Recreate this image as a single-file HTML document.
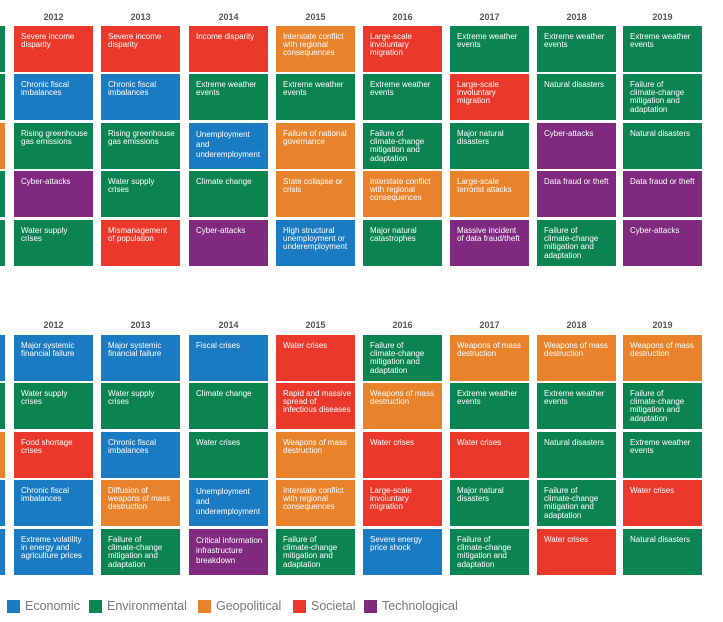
<!DOCTYPE html>
<html><head><meta charset="utf-8"><style>
body{margin:0;width:723px;height:622px;background:#fff;position:relative;overflow:hidden;font-family:"Liberation Sans",sans-serif}
.y{position:absolute;width:79px;text-align:center;font-size:9px;color:#555;font-weight:bold}
.b{position:absolute;width:79px;height:46px;box-sizing:border-box;padding:6.5px 0 0 7px;color:#fff;font-size:8px;line-height:8.4px;white-space:nowrap}
.E{background:#1a7bc3}.N{background:#0c8451}.G{background:#e8822b}.S{background:#ea392a}.T{background:#7f297f}
.lg{position:absolute;top:600px;height:13px;font-size:12.5px;color:#777;line-height:13px}
.lg span{display:inline-block;width:13px;height:13px;vertical-align:top;margin-right:5px}
</style></head><body>
<div class="y" style="left:14px;top:12px">2012</div><div class="y" style="left:101px;top:12px">2013</div><div class="y" style="left:189px;top:12px">2014</div><div class="y" style="left:276px;top:12px">2015</div><div class="y" style="left:363px;top:12px">2016</div><div class="y" style="left:450px;top:12px">2017</div><div class="y" style="left:537px;top:12px">2018</div><div class="y" style="left:623px;top:12px">2019</div>
<div class="y" style="left:14px;top:320px">2012</div><div class="y" style="left:101px;top:320px">2013</div><div class="y" style="left:189px;top:320px">2014</div><div class="y" style="left:276px;top:320px">2015</div><div class="y" style="left:363px;top:320px">2016</div><div class="y" style="left:450px;top:320px">2017</div><div class="y" style="left:537px;top:320px">2018</div><div class="y" style="left:623px;top:320px">2019</div>
<div class="b N" style="left:-74px;top:26px"></div><div class="b N" style="left:-74px;top:74px"></div><div class="b G" style="left:-74px;top:123px"></div><div class="b N" style="left:-74px;top:171px"></div><div class="b N" style="left:-74px;top:220px"></div>
<div class="b E" style="left:-74px;top:335px"></div><div class="b N" style="left:-74px;top:383px"></div><div class="b G" style="left:-74px;top:432px"></div><div class="b E" style="left:-74px;top:480px"></div><div class="b E" style="left:-74px;top:529px"></div>

<div class="b S" style="left:14px;top:26px">Severe income<br>disparity</div>
<div class="b E" style="left:14px;top:74px">Chronic fiscal<br>imbalances</div>
<div class="b N" style="left:14px;top:123px">Rising greenhouse<br>gas emissions</div>
<div class="b T" style="left:14px;top:171px">Cyber-attacks</div>
<div class="b N" style="left:14px;top:220px">Water supply<br>crises</div>

<div class="b S" style="left:101px;top:26px">Severe income<br>disparity</div>
<div class="b E" style="left:101px;top:74px">Chronic fiscal<br>imbalances</div>
<div class="b N" style="left:101px;top:123px">Rising greenhouse<br>gas emissions</div>
<div class="b N" style="left:101px;top:171px">Water supply<br>crises</div>
<div class="b S" style="left:101px;top:220px">Mismanagement<br>of population</div>

<div class="b S" style="left:189px;top:26px">Income disparity</div>
<div class="b N" style="left:189px;top:74px">Extreme weather<br>events</div>
<div class="b E" style="left:189px;top:123px;line-height:10px">Unemployment<br>and<br>underemployment</div>
<div class="b N" style="left:189px;top:171px">Climate change</div>
<div class="b T" style="left:189px;top:220px">Cyber-attacks</div>

<div class="b G" style="left:276px;top:26px">Interstate conflict<br>with regional<br>consequences</div>
<div class="b N" style="left:276px;top:74px">Extreme weather<br>events</div>
<div class="b G" style="left:276px;top:123px">Failure of national<br>governance</div>
<div class="b G" style="left:276px;top:171px">State collapse or<br>crisis</div>
<div class="b E" style="left:276px;top:220px">High structural<br>unemployment or<br>underemployment</div>

<div class="b S" style="left:363px;top:26px">Large-scale<br>involuntary<br>migration</div>
<div class="b N" style="left:363px;top:74px">Extreme weather<br>events</div>
<div class="b N" style="left:363px;top:123px">Failure of<br>climate-change<br>mitigation and<br>adaptation</div>
<div class="b G" style="left:363px;top:171px">Interstate conflict<br>with regional<br>consequences</div>
<div class="b N" style="left:363px;top:220px">Major natural<br>catastrophes</div>

<div class="b N" style="left:450px;top:26px">Extreme weather<br>events</div>
<div class="b S" style="left:450px;top:74px">Large-scale<br>involuntary<br>migration</div>
<div class="b N" style="left:450px;top:123px">Major natural<br>disasters</div>
<div class="b G" style="left:450px;top:171px">Large-scale<br>terrorist attacks</div>
<div class="b T" style="left:450px;top:220px">Massive incident<br>of data fraud/theft</div>

<div class="b N" style="left:537px;top:26px">Extreme weather<br>events</div>
<div class="b N" style="left:537px;top:74px">Natural disasters</div>
<div class="b T" style="left:537px;top:123px">Cyber-attacks</div>
<div class="b T" style="left:537px;top:171px">Data fraud or theft</div>
<div class="b N" style="left:537px;top:220px">Failure of<br>climate-change<br>mitigation and<br>adaptation</div>

<div class="b N" style="left:623px;top:26px">Extreme weather<br>events</div>
<div class="b N" style="left:623px;top:74px">Failure of<br>climate-change<br>mitigation and<br>adaptation</div>
<div class="b N" style="left:623px;top:123px">Natural disasters</div>
<div class="b T" style="left:623px;top:171px">Data fraud or theft</div>
<div class="b T" style="left:623px;top:220px">Cyber-attacks</div>

<div class="b E" style="left:14px;top:335px">Major systemic<br>financial failure</div>
<div class="b N" style="left:14px;top:383px">Water supply<br>crises</div>
<div class="b S" style="left:14px;top:432px">Food shortage<br>crises</div>
<div class="b E" style="left:14px;top:480px">Chronic fiscal<br>imbalances</div>
<div class="b E" style="left:14px;top:529px">Extreme volatility<br>in energy and<br>agriculture prices</div>

<div class="b E" style="left:101px;top:335px">Major systemic<br>financial failure</div>
<div class="b N" style="left:101px;top:383px">Water supply<br>crises</div>
<div class="b E" style="left:101px;top:432px">Chronic fiscal<br>imbalances</div>
<div class="b G" style="left:101px;top:480px">Diffusion of<br>weapons of mass<br>destruction</div>
<div class="b N" style="left:101px;top:529px">Failure of<br>climate-change<br>mitigation and<br>adaptation</div>

<div class="b E" style="left:189px;top:335px">Fiscal crises</div>
<div class="b N" style="left:189px;top:383px">Climate change</div>
<div class="b N" style="left:189px;top:432px">Water crises</div>
<div class="b E" style="left:189px;top:480px;line-height:10px">Unemployment<br>and<br>underemployment</div>
<div class="b T" style="left:189px;top:529px;line-height:10px">Critical information<br>infrastructure<br>breakdown</div>

<div class="b S" style="left:276px;top:335px">Water crises</div>
<div class="b S" style="left:276px;top:383px">Rapid and massive<br>spread of<br>infectious diseases</div>
<div class="b G" style="left:276px;top:432px">Weapons of mass<br>destruction</div>
<div class="b G" style="left:276px;top:480px">Interstate conflict<br>with regional<br>consequences</div>
<div class="b N" style="left:276px;top:529px">Failure of<br>climate-change<br>mitigation and<br>adaptation</div>

<div class="b N" style="left:363px;top:335px">Failure of<br>climate-change<br>mitigation and<br>adaptation</div>
<div class="b G" style="left:363px;top:383px">Weapons of mass<br>destruction</div>
<div class="b S" style="left:363px;top:432px">Water crises</div>
<div class="b S" style="left:363px;top:480px">Large-scale<br>involuntary<br>migration</div>
<div class="b E" style="left:363px;top:529px">Severe energy<br>price shock</div>

<div class="b G" style="left:450px;top:335px">Weapons of mass<br>destruction</div>
<div class="b N" style="left:450px;top:383px">Extreme weather<br>events</div>
<div class="b S" style="left:450px;top:432px">Water crises</div>
<div class="b N" style="left:450px;top:480px">Major natural<br>disasters</div>
<div class="b N" style="left:450px;top:529px">Failure of<br>climate-change<br>mitigation and<br>adaptation</div>

<div class="b G" style="left:537px;top:335px">Weapons of mass<br>destruction</div>
<div class="b N" style="left:537px;top:383px">Extreme weather<br>events</div>
<div class="b N" style="left:537px;top:432px">Natural disasters</div>
<div class="b N" style="left:537px;top:480px">Failure of<br>climate-change<br>mitigation and<br>adaptation</div>
<div class="b S" style="left:537px;top:529px">Water crises</div>

<div class="b G" style="left:623px;top:335px">Weapons of mass<br>destruction</div>
<div class="b N" style="left:623px;top:383px">Failure of<br>climate-change<br>mitigation and<br>adaptation</div>
<div class="b N" style="left:623px;top:432px">Extreme weather<br>events</div>
<div class="b S" style="left:623px;top:480px">Water crises</div>
<div class="b N" style="left:623px;top:529px">Natural disasters</div>

<div class="lg" style="left:7px"><span class="E"></span>Economic</div>
<div class="lg" style="left:89px"><span class="N"></span>Environmental</div>
<div class="lg" style="left:198px"><span class="G"></span>Geopolitical</div>
<div class="lg" style="left:293px"><span class="S"></span>Societal</div>
<div class="lg" style="left:364px"><span class="T"></span>Technological</div>
</body></html>
